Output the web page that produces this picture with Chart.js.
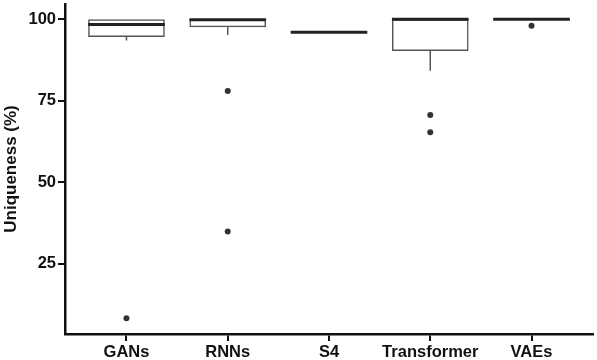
<!DOCTYPE html>
<html>
<head>
<meta charset="utf-8">
<script src="https://cdn.jsdelivr.net/npm/chart.js@4"></script>
<style>
html,body{margin:0;padding:0;background:#fff;}
#wrap{width:597px;height:360px;position:relative;}
</style>
</head>
<body>
<div id="wrap"><canvas id="c" width="597" height="360"></canvas></div>
<script>
const categories = ['GANs', 'RNNs', 'S4', 'Transformer', 'VAEs'];
const q1 = [94.6, 97.6, 96.0, 90.3, 100];
const median = [98.4, 99.9, 96.0, 100, 100];
const q3 = [100, 100, 96.0, 100, 100];
const whiskerLow = [93.5, 95.2, 96.0, 84.2, 100];
const whiskerHigh = [100, 100, 96.0, 100, 100];
const outliers = [[8.2], [78.0, 34.9], [], [70.6, 65.3], [98.0]];
const yTicks = [25, 50, 75, 100];
const yTitle = 'Uniqueness (%)';

const BOX_W = 0.757;

Chart.defaults.font.family = "'Liberation Sans', Arial, sans-serif";
Chart.defaults.font.weight = 'bold';
Chart.defaults.font.size = 16.5;
Chart.defaults.color = '#111';

const boxData = categories.map((c, i) => ({x: i, y: [q1[i], q3[i]]}));
const outlierData = [];
outliers.forEach((arr, i) => arr.forEach(v => outlierData.push({x: i, y: v})));

const boxPlugin = {
  id: 'boxParts',
  afterDatasetsDraw(chart) {
    const xs = chart.scales.x, ys = chart.scales.y, ctx = chart.ctx;
    ctx.save();
    categories.forEach((c, i) => {
      const cx = xs.getPixelForValue(i);
      const x0 = xs.getPixelForValue(i - BOX_W / 2);
      const x1 = xs.getPixelForValue(i + BOX_W / 2);
      ctx.strokeStyle = '#555';
      ctx.lineWidth = 1.5;
      ctx.beginPath();
      ctx.moveTo(cx, ys.getPixelForValue(q1[i]));
      ctx.lineTo(cx, ys.getPixelForValue(whiskerLow[i]));
      ctx.moveTo(cx, ys.getPixelForValue(q3[i]));
      ctx.lineTo(cx, ys.getPixelForValue(whiskerHigh[i]));
      ctx.stroke();
      ctx.strokeStyle = '#222';
      ctx.lineWidth = 3;
      ctx.beginPath();
      const my = ys.getPixelForValue(median[i]);
      ctx.moveTo(x0, my);
      ctx.lineTo(x1, my);
      ctx.stroke();
    });
    ctx.restore();
  }
};

new Chart(document.getElementById('c'), {
  type: 'bar',
  data: {
    datasets: [
      {
        type: 'bar',
        data: boxData,
        backgroundColor: 'rgba(255,255,255,0)',
        borderColor: '#555',
        borderWidth: 1.5,
        borderSkipped: false,
        categoryPercentage: 1,
        barPercentage: BOX_W,
        order: 2
      },
      {
        type: 'scatter',
        data: outlierData,
        backgroundColor: '#333',
        borderColor: '#333',
        pointRadius: 3,
        borderWidth: 0,
        order: 1
      }
    ]
  },
  options: {
    responsive: false,
    animation: false,
    events: [],
    layout: {padding: {top: 2, right: 2, left: 0, bottom: 0}},
    plugins: {legend: {display: false}, tooltip: {enabled: false}},
    scales: {
      x: {
        type: 'linear',
        offset: false,
        min: -0.607,
        max: 4.607,
        afterBuildTicks(s) { s.ticks = categories.map((c, i) => ({value: i})); },
        afterFit(s) { s.height = 26; s.paddingLeft = 0; s.paddingRight = 0; },
        ticks: {
          callback: (v) => categories[v] ?? '',
          padding: 2,
          maxRotation: 0,
          autoSkip: false,
          color: '#111',
          font: {size: 16.5, weight: 'bold'}
        },
        grid: {display: true, offset: false, drawOnChartArea: false, drawTicks: true, tickLength: 7, color: '#111', lineWidth: 2},
        border: {display: true, color: '#111', width: 2.5}
      },
      y: {
        min: 3.4,
        max: 104.7,
        afterBuildTicks(s) { s.ticks = yTicks.map(v => ({value: v})); },
        afterFit(s) { s.width = 65; s.paddingTop = 0; s.paddingBottom = 0; },
        ticks: {
          callback: (v) => String(v),
          padding: 2,
          color: '#111',
          font: {size: 16.5, weight: 'bold'}
        },
        grid: {display: true, drawOnChartArea: false, drawTicks: true, tickLength: 7, color: '#111', lineWidth: 2},
        border: {display: true, color: '#111', width: 2.5},
        title: {
          display: true,
          text: yTitle,
          color: '#111',
          font: {size: 17, weight: 'bold'},
          padding: {top: 1, bottom: 0}
        }
      }
    }
  },
  plugins: [boxPlugin]
});
</script>
</body>
</html>
